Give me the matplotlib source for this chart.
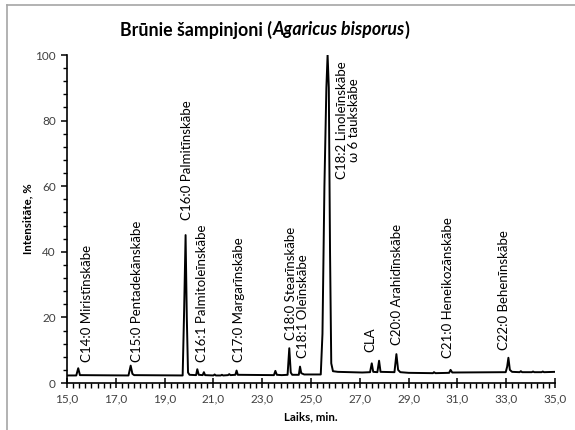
import matplotlib
matplotlib.use("Agg")
import matplotlib.pyplot as plt
from matplotlib.ticker import FixedLocator, MultipleLocator, FuncFormatter
from matplotlib.lines import Line2D

plt.rcParams['font.family'] = ['Lato', 'DejaVu Sans']

# Chromatogram trace (retention time, min ; intensity, %)
time = [15.0, 15.38, 15.46, 15.53, 17.52, 17.61, 17.68, 17.75,
        19.74, 19.80, 19.86, 19.91, 19.96, 20.02, 20.29, 20.34, 20.40, 20.56,
        20.61, 20.66, 21.00, 21.05, 21.10, 21.30, 21.35, 21.40, 21.60, 21.65,
        21.70, 21.90, 21.95, 22.00, 23.48, 23.54, 23.60, 23.80, 24.04, 24.11,
        24.17, 24.23, 24.50, 24.55, 24.60, 24.66, 24.72, 25.40, 25.47, 25.55,
        25.63, 25.68, 25.73, 25.78, 25.83, 25.90, 26.10, 26.60, 27.10, 27.42,
        27.49, 27.55, 27.72, 27.79, 27.85, 28.42, 28.50, 28.57, 28.66, 29.00,
        30.00, 30.04, 30.10, 30.66, 30.72, 30.79, 32.98, 33.04, 33.09, 33.15,
        33.24, 33.55, 33.60, 33.65, 34.05, 34.10, 34.15, 34.45, 34.50, 34.55,
        35.00]
intensity = [2.3, 2.3, 4.5, 2.4, 2.3, 5.3, 2.8, 2.4,
             2.3, 22.0, 45.1, 20.0, 3.2, 2.5, 2.4, 4.2, 2.5, 2.4,
             3.3, 2.4, 2.3, 2.6, 2.3, 2.3, 2.5, 2.3, 2.4, 2.7,
             2.4, 2.5, 3.8, 2.5, 2.4, 3.7, 2.5, 2.4, 2.5, 10.6,
             3.2, 2.5, 2.5, 5.0, 3.0, 2.8, 2.6, 2.6, 15.0, 60.0,
             90.0, 100.0, 90.0, 40.0, 6.0, 3.6, 3.4, 3.3, 3.2, 3.3,
             6.0, 3.4, 3.3, 6.8, 3.4, 3.3, 8.8, 4.0, 3.3, 3.1,
             3.0, 3.3, 3.0, 3.1, 4.0, 3.2, 3.3, 5.0, 7.7, 4.0,
             3.4, 3.3, 3.6, 3.3, 3.3, 3.5, 3.3, 3.3, 3.5, 3.3,
             3.4]

# Peak annotations
label_texts = ["C14:0 Miristīnskābe", "C15:0 Pentadekānskābe", "C16:0 Palmitīnskābe",
               "C16:1 Palmitoleīnskābe", "C17:0 Margarīnskābe", "C18:0 Stearīnskābe",
               "C18:1 Oleīnskābe", "CLA", "C20:0 Arahidīnskābe",
               "C21:0 Heneikozānskābe", "C22:0 Behenīnskābe"]
label_x = [15.82, 17.87, 19.92, 20.53, 22.05, 24.18, 24.67, 27.42, 28.52, 30.61, 32.91]
label_y = [6.4, 6.4, 49.7, 6.4, 6.4, 13.0, 7.6, 9.5, 11.6, 7.6, 10.0]
top_label_text = "C18:2 Linoleīnskābe\nω 6 taukskābe"
top_label_x = 26.52
top_label_y = 98.0

x_ticks = [15, 17, 19, 21, 23, 25, 27, 29, 31, 33, 35]
title_parts = ["Brūnie šampinjoni (", "Agaricus bisporus", ")"]
x_label = "Laiks, min."
y_label = "Intensitāte, %"

W, H = 575, 430
fig = plt.figure(figsize=(W / 100, H / 100), dpi=100)
ax = fig.add_axes([67 / W, (H - 383) / H, (555 - 67) / W, (383 - 55) / H])

ax.plot(time, intensity, color='black', lw=1.4, solid_joinstyle='round')

for t, x, y in zip(label_texts, label_x, label_y):
    ax.text(x, y, t, rotation=90, ha='center', va='bottom', fontsize=9.5, color='black')
ax.text(top_label_x, top_label_y, top_label_text, rotation=90, ha='center', va='top',
        multialignment='center', fontsize=9.5, color='black', linespacing=1.05)

ax.set_xlim(15, 35)
ax.set_ylim(0, 100)
for s in ['top', 'right']:
    ax.spines[s].set_visible(False)
for s in ['left', 'bottom']:
    ax.spines[s].set_linewidth(1.2)
    ax.spines[s].set_color('black')

ax.xaxis.set_major_locator(FixedLocator(x_ticks))
ax.xaxis.set_minor_locator(MultipleLocator(0.25))
ax.yaxis.set_major_locator(MultipleLocator(20))
ax.yaxis.set_minor_locator(MultipleLocator(4))
ax.xaxis.set_major_formatter(FuncFormatter(lambda v, p: f"{v:.1f}".replace('.', ',')))
ax.tick_params(axis='x', which='major', direction='inout', length=7, width=1.1,
               labelsize=8.5, labelcolor='#404040', pad=4)
ax.tick_params(axis='x', which='minor', direction='out', length=3.5, width=1.0)
ax.tick_params(axis='y', which='major', direction='out', length=4, width=1.1,
               labelsize=8.5, labelcolor='#404040', pad=4)
ax.tick_params(axis='y', which='minor', direction='out', length=3, width=1.0)

ax.set_xlabel(x_label, fontsize=8.3, fontweight='bold')
ax.set_ylabel(y_label, fontsize=8.3, fontweight='bold')
ax.xaxis.set_label_coords(0.5, -0.085)
ax.yaxis.set_label_coords(-0.069, 0.5)

# Title in three parts (bold + bold italic + bold)
renderer = fig.canvas.get_renderer()
styles = ['normal', 'italic', 'normal']
pieces = []
for part, st in zip(title_parts, styles):
    t = fig.text(0, 1 - 30 / H, part, fontsize=12.8, fontweight='bold', style=st,
                 va='center', ha='left')
    pieces.append(t)
widths = [p.get_window_extent(renderer).width for p in pieces]
total = sum(widths)
x0 = 265 - total / 2
for p, w in zip(pieces, widths):
    p.set_x(x0 / W)
    x0 += w

# Chart-area border (only top and left visible in the crop)
fig.add_artist(Line2D([7 / W, 1], [1 - 5 / H, 1 - 5 / H], color='#a6a6a6', lw=1.2,
                      transform=fig.transFigure))
fig.add_artist(Line2D([7 / W, 7 / W], [0, 1 - 5 / H], color='#a6a6a6', lw=1.2,
                      transform=fig.transFigure))

fig.savefig("out.png", dpi=100)
